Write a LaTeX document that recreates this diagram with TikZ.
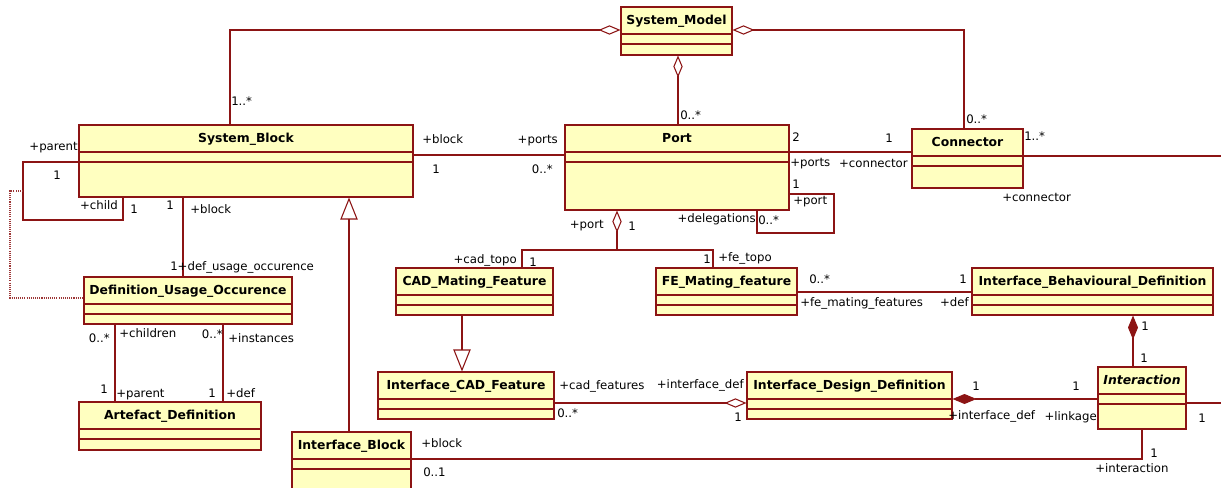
\documentclass[tikz,border=0pt]{standalone}
\usepackage{fontspec}
\setmainfont{DejaVu Sans}
\usetikzlibrary{arrows.meta,fit}

\definecolor{umlred}{RGB}{140,20,20}
\definecolor{umlfill}{RGB}{255,255,192}

\begin{document}
\begin{tikzpicture}[
  x=0.75pt, y=-0.75pt,
  font=\fontsize{8.8}{10}\selectfont,
  cls/.style={draw=umlred, fill=umlfill, line width=0.8pt, inner sep=0pt,
    path picture={\draw[umlred, line width=0.8pt]
      ([yshift=-20.25pt]path picture bounding box.north west) -- ([yshift=-20.25pt]path picture bounding box.north east)
      ([yshift=-27.75pt]path picture bounding box.north west) -- ([yshift=-27.75pt]path picture bounding box.north east);}},
  clsname/.style={anchor=center, yshift=-10.1pt, inner sep=0pt, text height=6.8pt, text depth=0pt,
    font=\fontsize{9.3}{11}\selectfont\bfseries},
  lbl/.style={inner sep=0pt, text height=6.3pt, text depth=0pt},
  assoc/.style={draw=umlred, line width=0.8pt},
  agg/.style={assoc, {Diamond[open, length=16.5pt, width=7pt]}-},
  comp/.style={assoc, {Diamond[length=18pt, width=7.5pt]}-},
  gen/.style={assoc, -{Triangle[open, length=16.5pt, width=13pt]}},
  note/.style={draw=umlred!85, line width=0.8pt, dash pattern=on 0.8pt off 0.8pt}
]
\useasboundingbox (0,0) rectangle (1221,488);
\clip (0,0) rectangle (1221,488);

% classes
\node[cls, fit={(621,7) (732,55)}, label={[clsname]north:System\_Model}] (sysmodel) {};
\node[cls, fit={(79,125) (413,197)}, label={[clsname]north:System\_Block}] (sysblock) {};
\node[cls, fit={(565,125) (789,210)}, label={[clsname]north:Port}] (port) {};
\node[cls, fit={(912,129) (1023,188)}, label={[clsname]north:Connector}] (connector) {};
\node[cls, fit={(84,277) (292,324)}, label={[clsname]north:Definition\_Usage\_Occurence}] (duo) {};
\node[cls, fit={(79,402) (261,450)}, label={[clsname]north:Artefact\_Definition}] (artdef) {};
\node[cls, fit={(292,432) (411,510)}, label={[clsname]north:Interface\_Block}] (ifblock) {};
\node[cls, fit={(396,268) (553,315)}, label={[clsname]north:CAD\_Mating\_Feature}] (cadmate) {};
\node[cls, fit={(656,268) (797,315)}, label={[clsname]north:FE\_Mating\_feature}] (femate) {};
\node[cls, fit={(378,372) (554,419)}, label={[clsname]north:Interface\_CAD\_Feature}] (icf) {};
\node[cls, fit={(747,372) (952,419)}, label={[clsname]north:Interface\_Design\_Definition}] (idd) {};
\node[cls, fit={(972,268) (1213,315)}, label={[clsname]north:Interface\_Behavioural\_Definition}] (ibd) {};
\node[cls, fit={(1098,367) (1186,429)}, label={[clsname]north:{\itshape Interaction}}] (interaction) {};

% free ends and corners
\coordinate (connOut) at (1230,156);
\coordinate (interOut) at (1230,403);
\coordinate (split) at (617,250);
\coordinate (loopmid) at (23,191);

% aggregations from System_Model
\draw[agg] (sysmodel.west |- 0,30) -| (230,0 |- sysblock.north);
\draw[agg] (sysmodel.east |- 0,30) -| (964,0 |- connector.north);
\draw[agg] (678,0 |- sysmodel.south) -- (678,0 |- port.north);

% associations
\draw[assoc] (sysblock.east |- 0,155) -- (port.west |- 0,155);
\draw[assoc] (port.east |- 0,152) -- (connector.west |- 0,152);
\draw[assoc] (port.east |- 0,194) -| (834,233) -| (757,0 |- port.south);
\draw[assoc] (connector.east |- 0,156) -- (connOut);
\draw[agg] (617,0 |- port.south) -- (split);
\draw[assoc] (522,0 |- cadmate.north) |- (split) -| (713,0 |- femate.north);
\draw[assoc] (sysblock.west |- 0,162) -| (23,220) -| (123,0 |- sysblock.south);
\draw[assoc] (183,0 |- sysblock.south) -- (183,0 |- duo.north);
\draw[note] (loopmid) -| (10,298) -- (duo.west |- 0,298);
\draw[assoc] (115,0 |- duo.south) -- (115,0 |- artdef.north);
\draw[assoc] (223,0 |- duo.south) -- (223,0 |- artdef.north);
\draw[assoc] (femate.east |- 0,292) -- (ibd.west |- 0,292);
\draw[assoc] (interaction.east |- 0,403) -- (interOut);
\draw[assoc] (ifblock.east |- 0,459) -| (1142,0 |- interaction.south);
\draw[agg] (idd.west |- 0,403) -- (icf.east |- 0,403);
\draw[comp] (idd.east |- 0,399) -- (interaction.west |- 0,399);
\draw[comp] (1133,0 |- ibd.south) -- (1133,0 |- interaction.north);

% generalizations
\draw[gen] (462,0 |- cadmate.south) -- (462,0 |- icf.north);
\draw[gen] (349,0 |- ifblock.north) -- (349,0 |- sysblock.south);

% role names and multiplicities
\foreach \x/\y/\a/\t [count=\i] in {
  231/101/west/1..*, 78/146/east/+parent, 57/175/center/1, 118/205/east/+child,
  134/209/center/1, 170/205/center/1, 190/209/west/+block,
  170/266/west/1+def\_usage\_occurence, 110/338/east/0..*, 119/333/west/+children,
  223/334/east/0..*, 228/338/west/+instances, 104/389/center/1, 116/393/west/+parent,
  212/393/center/1, 226/393/west/+def, 680/115/west/0..*, 422/139/west/+block,
  436/169/center/1, 558/139/east/+ports, 553/169/east/0..*, 796/137/center/2,
  790/162/west/+ports, 796/184/center/1, 793/200/west/+port, 604/224/east/+port,
  632/226/center/1, 756/218/east/+delegations, 758/220/west/0..*, 966/119/west/0..*,
  889/138/center/1, 908/163/east/+connector, 1024/136/west/1..*, 1002/197/west/+connector,
  517/259/east/+cad\_topo, 533/262/center/1, 707/259/center/1, 718/257/west/+fe\_topo,
  559/385/west/+cad\_features, 744/384/east/+interface\_def, 557/413/west/0..*,
  738/417/center/1, 421/443/west/+block, 423/472/west/0..1, 809/279/west/0..*,
  963/279/center/1, 800/302/west/+fe\_mating\_features, 969/302/east/+def,
  1145/326/center/1, 1144/358/center/1, 976/386/center/1, 1076/386/center/1,
  948/415/west/+interface\_def, 1097/416/east/+linkage, 1202/418/center/1,
  1154/453/center/1, 1095/468/west/+interaction}
  \node[lbl, anchor=\a] (lab\i) at (\x,\y) {\t};

\end{tikzpicture}
\end{document}
